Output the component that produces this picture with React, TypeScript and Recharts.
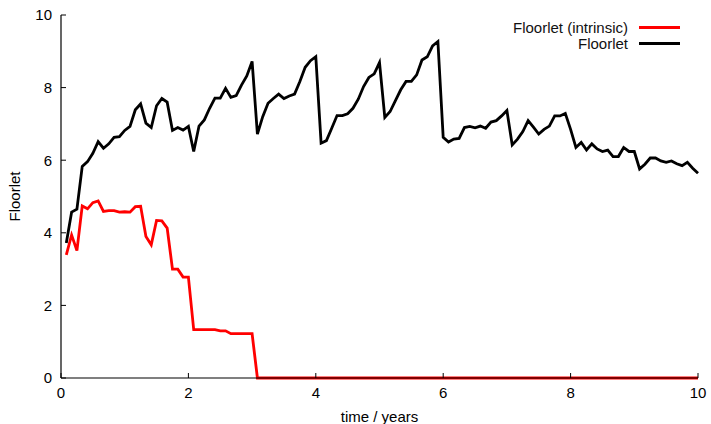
import React from "react";
import { LineChart, Line, XAxis, YAxis, Legend } from "recharts";

// monthly samples, first one at t = 1/12 year
const floorlet = [
  3.72, 4.57, 4.65, 5.83, 5.96, 6.19, 6.51, 6.33, 6.45, 6.63, 6.65, 6.82,
  6.93, 7.39, 7.55, 7.02, 6.9, 7.5, 7.7, 7.6, 6.82, 6.9, 6.83, 6.93,
  6.24, 6.94, 7.11, 7.43, 7.71, 7.71, 7.98, 7.73, 7.78, 8.07, 8.32, 8.72,
  6.72, 7.2, 7.57, 7.7, 7.82, 7.7, 7.77, 7.82, 8.17, 8.56, 8.74, 8.85,
  6.47, 6.54, 6.88, 7.23, 7.23, 7.28, 7.43, 7.68, 8.03, 8.28, 8.38, 8.69,
  7.18, 7.34, 7.64, 7.94, 8.17, 8.17, 8.35, 8.76, 8.85, 9.15, 9.27, 6.63,
  6.5, 6.58, 6.6, 6.9, 6.93, 6.89, 6.94, 6.88, 7.05, 7.09, 7.22, 7.37,
  6.42, 6.58, 6.79, 7.09, 6.91, 6.72, 6.85, 6.94, 7.22, 7.22, 7.29, 6.85,
  6.35, 6.49, 6.28, 6.45, 6.31, 6.24, 6.28, 6.1, 6.1, 6.35, 6.24, 6.24,
  5.76, 5.89, 6.06, 6.06, 5.98, 5.94, 5.98, 5.9, 5.85, 5.94, 5.78, 5.64,
];

const intrinsic = [
  3.39, 3.94, 3.51, 4.74, 4.66, 4.83, 4.88, 4.59, 4.61, 4.61, 4.57, 4.58,
  4.57, 4.72, 4.73, 3.9, 3.67, 4.34, 4.33, 4.13, 3.0, 3.0, 2.78, 2.78,
  1.33, 1.33, 1.33, 1.33, 1.33, 1.3, 1.3, 1.22, 1.22, 1.22, 1.22, 1.22,
  0, 0, 0, 0, 0, 0, 0, 0, 0, 0, 0, 0,
  0, 0, 0, 0, 0, 0, 0, 0, 0, 0, 0, 0,
  0, 0, 0, 0, 0, 0, 0, 0, 0, 0, 0, 0,
  0, 0, 0, 0, 0, 0, 0, 0, 0, 0, 0, 0,
  0, 0, 0, 0, 0, 0, 0, 0, 0, 0, 0, 0,
  0, 0, 0, 0, 0, 0, 0, 0, 0, 0, 0, 0,
  0, 0, 0, 0, 0, 0, 0, 0, 0, 0, 0, 0,
];

const xTicks = [0, 2, 4, 6, 8, 10];
const yTicks = [0, 2, 4, 6, 8, 10];

const data = floorlet.map((v, i) => ({
  t: (i + 1) / 12,
  floorlet: v,
  intrinsic: intrinsic[i],
}));

const FONT = "'Liberation Sans', Arial, Helvetica, sans-serif";
const tickStyle = { fontSize: 15, fill: "#000", fontFamily: FONT };

const legendItems = [
  { name: "Floorlet (intrinsic)", color: "#ff0000" },
  { name: "Floorlet", color: "#000000" },
];

const KeyBox = () => (
  <div style={{ fontFamily: FONT, fontSize: 15, color: "#111" }}>
    {legendItems.map((it) => (
      <div
        key={it.name}
        style={{ display: "flex", alignItems: "center", justifyContent: "flex-end", height: 16 }}
      >
        <span>{it.name}</span>
        <span
          style={{ display: "inline-block", width: 41, height: 3, background: it.color, marginLeft: 11 }}
        />
      </div>
    ))}
  </div>
);

// rotated y title, centred on the plot's vertical middle
const YTitle = () => {
  const cx = 14;
  const cy = 15 + 363 / 2;
  return (
    <text
      x={cx}
      y={cy}
      transform={`rotate(-90 ${cx} ${cy})`}
      textAnchor="middle"
      dominantBaseline="central"
      style={{ fontSize: 15, fontFamily: FONT, fill: "#000" }}
    >
      Floorlet
    </text>
  );
};

export default function App() {
  return (
    <div style={{ position: "absolute", left: 0, top: 0, background: "#fff" }}>
      <LineChart
        width={711}
        height={424}
        data={data}
        margin={{ top: 15, right: 13, bottom: 0, left: 0 }}
      >
        <XAxis
          dataKey="t"
          type="number"
          domain={[0, 10]}
          ticks={xTicks}
          height={46}
          tickSize={-5}
          tickMargin={14}
          tick={tickStyle}
          stroke="#000"
          axisLine={{ stroke: "#000", strokeWidth: 1.2 }}
          tickLine={{ stroke: "#000" }}
          label={{ value: "time / years", position: "insideBottom", offset: 2, style: { fontSize: 15, fontFamily: FONT, fill: "#000" } }}
        />
        <XAxis
          xAxisId="top"
          orientation="top"
          dataKey="t"
          type="number"
          domain={[0, 10]}
          ticks={xTicks}
          height={0}
          tickSize={-5}
          tickFormatter={() => ""}
          axisLine={{ stroke: "#000", strokeWidth: 1.2 }}
          tickLine={{ stroke: "#000" }}
        />
        <YAxis
          type="number"
          domain={[0, 10]}
          ticks={yTicks}
          width={61}
          tickSize={-5}
          tickMargin={14}
          tick={tickStyle}
          axisLine={{ stroke: "#000", strokeWidth: 1.2 }}
          tickLine={{ stroke: "#000" }}
          label={<YTitle />}
        />
        <YAxis
          yAxisId="right"
          orientation="right"
          type="number"
          domain={[0, 10]}
          ticks={yTicks}
          width={0}
          tickSize={-5}
          tickFormatter={() => ""}
          axisLine={{ stroke: "#000", strokeWidth: 1.2 }}
          tickLine={{ stroke: "#000" }}
        />
        <Legend
          layout="horizontal"
          align="center"
          verticalAlign="middle"
          content={<KeyBox />}
          wrapperStyle={{ position: "absolute", top: 19, right: 31, left: "auto", width: "auto" }}
        />
        <Line
          dataKey="intrinsic"
          stroke="#ff0000"
          strokeWidth={2.8}
          dot={false}
          type="linear"
          isAnimationActive={false}
        />
        <Line
          dataKey="floorlet"
          stroke="#000000"
          strokeWidth={2.8}
          dot={false}
          type="linear"
          isAnimationActive={false}
        />
      </LineChart>
    </div>
  );
}
